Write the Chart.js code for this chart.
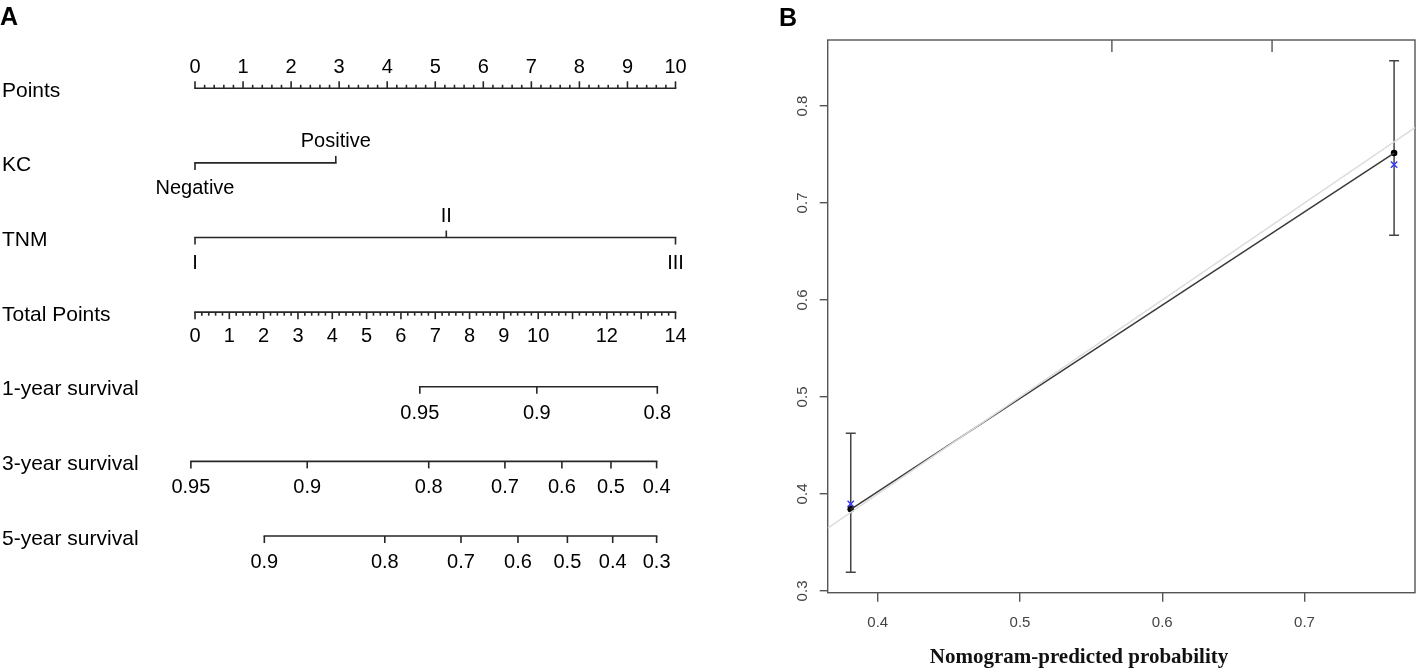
<!DOCTYPE html>
<html><head><meta charset="utf-8">
<script src="https://cdn.jsdelivr.net/npm/chart.js@4.4.1/dist/chart.umd.min.js"></script>
<style>
html,body{margin:0;padding:0;background:#fff;width:1418px;height:670px;overflow:hidden}
#wa{position:absolute;left:0;top:0;width:760px;height:670px}
#wb{position:absolute;left:760px;top:0;width:658px;height:670px}
</style></head><body>
<div id="wa"><canvas id="ca"></canvas></div>
<div id="wb"><canvas id="cb"></canvas></div>
<script>
// ================= Panel A : nomogram =================
const rowNames = ['Points','KC','TNM','Total Points','1-year survival','3-year survival','5-year survival'];
const pointsTickValues = [0,1,2,3,4,5,6,7,8,9,10];
const kcLevels = ['Negative','Positive'];
const kcPoints = [0, 2.93];
const tnmLevels = ['I','II','III'];
const tnmPoints = [0, 5.23, 10];
const totalTickValues = [0,1,2,3,4,5,6,7,8,9,10,11,12,13,14];
const totalTickLabels = ['0','1','2','3','4','5','6','7','8','9','10','','12','','14'];
const surv1Labels = ['0.95','0.9','0.8'];
const surv1Total = [6.55, 9.96, 13.47];
const surv3Labels = ['0.95','0.9','0.8','0.7','0.6','0.5','0.4'];
const surv3Total = [-0.12, 3.27, 6.81, 9.03, 10.69, 12.12, 13.45];
const surv5Labels = ['0.9','0.8','0.7','0.6','0.5','0.4','0.3'];
const surv5Total = [2.02, 5.53, 7.75, 9.41, 10.85, 12.17, 13.45];

const LINE = '#262626';
const SANS = '"Liberation Sans", Arial, sans-serif';

function seg(vals, row, axis) {
  return {
    data: [{x: Math.min(...vals), y: row}, {x: Math.max(...vals), y: row}],
    xAxisID: axis, showLine: true, pointRadius: 0, borderColor: LINE,
    borderWidth: 1.6, borderCapStyle: 'square', clip: false
  };
}

const nomoPlugin = {
  id: 'nomo',
  afterDatasetsDraw(chart) {
    const ctx = chart.ctx, xs = chart.scales.x, x2 = chart.scales.x2, ys = chart.scales.y;
    ctx.save();
    ctx.strokeStyle = LINE; ctx.lineWidth = 1.6; ctx.lineCap = 'butt';
    ctx.fillStyle = '#000';
    const tick = (sc, v, row, dir, len) => {
      const px = sc.getPixelForValue(v), py = ys.getPixelForValue(row);
      ctx.beginPath(); ctx.moveTo(px, py); ctx.lineTo(px, py + dir * len); ctx.stroke();
    };
    const text = (sc, v, row, t, dy) => {
      ctx.fillText(t, sc.getPixelForValue(v), ys.getPixelForValue(row) + dy);
    };
    ctx.textAlign = 'center'; ctx.textBaseline = 'alphabetic';
    ctx.font = '20px ' + SANS;
    // Points axis (row 0): ticks upward
    for (let i = 0; i <= 50; i++) {
      const v = i * 0.2;
      tick(xs, v, 0, -1, i % 5 === 0 ? 7 : 3.5);
    }
    pointsTickValues.forEach(v => text(xs, v, 0, String(v), -15));
    // KC (row 1)
    kcPoints.forEach((v, i) => {
      const above = i % 2 === 1;
      tick(xs, v, 1, above ? -1 : 1, 7);
      text(xs, v, 1, kcLevels[i], above ? -15.5 : 31.5);
    });
    // TNM (row 2)
    tnmPoints.forEach((v, i) => {
      const above = i % 2 === 1;
      tick(xs, v, 2, above ? -1 : 1, 7);
      text(xs, v, 2, tnmLevels[i], above ? -15.5 : 31.5);
    });
    // Total points (row 3): ticks downward
    for (let i = 0; i <= 70; i++) {
      const v = i * 0.2;
      tick(x2, v, 3, 1, i % 5 === 0 ? 7 : 3.5);
    }
    totalTickValues.forEach((v, i) => { if (totalTickLabels[i]) text(x2, v, 3, totalTickLabels[i], 30); });
    // survival axes
    [[surv1Total, surv1Labels, 4], [surv3Total, surv3Labels, 5], [surv5Total, surv5Labels, 6]].forEach(([vals, labs, row]) => {
      vals.forEach((v, i) => { tick(x2, v, row, 1, 7); text(x2, v, row, labs[i], 32); });
    });
    // row names
    ctx.textAlign = 'left';
    ctx.font = '21px ' + SANS;
    rowNames.forEach((n, r) => ctx.fillText(n, 2, ys.getPixelForValue(r) + 8.5));
    // panel tag
    ctx.font = 'bold 25px ' + SANS;
    ctx.fillText('A', 0, 25);
    ctx.restore();
  }
};

new Chart(document.getElementById('ca'), {
  type: 'scatter',
  data: {
    datasets: [
      seg([0, 10], 0, 'x'),
      seg(kcPoints, 1, 'x'),
      seg(tnmPoints, 2, 'x'),
      seg([0, 14], 3, 'x2'),
      seg(surv1Total, 4, 'x2'),
      seg(surv3Total, 5, 'x2'),
      seg(surv5Total, 6, 'x2')
    ]
  },
  options: {
    responsive: true, maintainAspectRatio: false, animation: false,
    layout: {padding: {left: 195, right: 84.5, top: 88.3, bottom: 134}},
    plugins: {legend: {display: false}, tooltip: {enabled: false}},
    events: [],
    scales: {
      x: {type: 'linear', min: 0, max: 10, display: false},
      x2: {type: 'linear', min: 0, max: 14, display: false},
      y: {type: 'linear', min: 0, max: 6, reverse: true, display: false}
    }
  },
  plugins: [nomoPlugin]
});

// ================= Panel B : calibration =================
const xLim = [0.3648, 0.7777];
const yLim = [0.2982, 0.868];
const xTicks = [0.4, 0.5, 0.6, 0.7];
const yTicks = [0.3, 0.4, 0.5, 0.6, 0.7, 0.8];
const predicted = [0.381, 0.763];
const observed = [0.3842, 0.7515];
const corrected = [0.3897, 0.7395];
const ciLow = [0.3193, 0.6667];
const ciHigh = [0.4626, 0.8467];
const rugTicks = [0.5646, 0.6772];
const xTitle = 'Nomogram-predicted probability';

const AX = '#555';
const calPlugin = {
  id: 'cal',
  beforeDatasetsDraw(chart) {
    const ctx = chart.ctx, xs = chart.scales.x, ys = chart.scales.y, a = chart.chartArea;
    ctx.save();
    ctx.strokeStyle = AX; ctx.lineWidth = 1.4;
    ctx.strokeRect(a.left, a.top, a.right - a.left, a.bottom - a.top);
    // rug ticks at top
    rugTicks.forEach(v => {
      const px = xs.getPixelForValue(v);
      ctx.beginPath(); ctx.moveTo(px, a.top); ctx.lineTo(px, a.top + 12); ctx.stroke();
    });
    // error bars
    ctx.strokeStyle = '#444'; ctx.lineWidth = 1.5;
    predicted.forEach((p, i) => {
      const px = xs.getPixelForValue(p), y1 = ys.getPixelForValue(ciLow[i]), y2 = ys.getPixelForValue(ciHigh[i]);
      ctx.beginPath();
      ctx.moveTo(px, y1); ctx.lineTo(px, y2);
      ctx.moveTo(px - 5, y1); ctx.lineTo(px + 5, y1);
      ctx.moveTo(px - 5, y2); ctx.lineTo(px + 5, y2);
      ctx.stroke();
    });
    ctx.restore();
  },
  afterDraw(chart) {
    const ctx = chart.ctx, ys = chart.scales.y;
    ctx.save();
    ctx.fillStyle = '#444';
    ctx.font = '15px ' + SANS;
    ctx.textAlign = 'center'; ctx.textBaseline = 'middle';
    yTicks.forEach(v => {
      ctx.save();
      ctx.translate(42.5, ys.getPixelForValue(v));
      ctx.rotate(-Math.PI / 2);
      ctx.fillText(v.toFixed(1), 0, 0);
      ctx.restore();
    });
    // x-axis title
    ctx.fillStyle = '#111';
    ctx.font = 'bold 21px "Liberation Serif", "Times New Roman", serif';
    ctx.textAlign = 'center'; ctx.textBaseline = 'alphabetic';
    ctx.fillText(xTitle, 319, 662.5);
    ctx.fillStyle = '#000';
    ctx.textAlign = 'left';
    ctx.font = 'bold 25px ' + SANS;
    ctx.fillText('B', 19, 25.6);
    ctx.restore();
  }
};

new Chart(document.getElementById('cb'), {
  type: 'scatter',
  data: {
    datasets: [
      {data: [{x: xLim[0], y: xLim[0]}, {x: xLim[1], y: xLim[1]}], showLine: true, pointRadius: 0,
       borderColor: '#dcdcdc', borderWidth: 1.5},
      {data: predicted.map((p, i) => ({x: p, y: observed[i]})), showLine: true, pointRadius: 0,
       borderColor: '#3a3a3a', borderWidth: 1.5},
      {data: predicted.map((p, i) => ({x: p, y: observed[i]})), pointRadius: 3.3,
       backgroundColor: '#000', borderColor: '#000', borderWidth: 0},
      {data: predicted.map((p, i) => ({x: p, y: corrected[i]})), pointStyle: 'crossRot', pointRadius: 4.5,
       borderColor: '#3a3aff', borderWidth: 1.5}
    ]
  },
  options: {
    responsive: true, maintainAspectRatio: false, animation: false,
    layout: {padding: {left: 0, right: 3, top: 40, bottom: 0}, autoPadding: false},
    plugins: {legend: {display: false}, tooltip: {enabled: false}},
    events: [],
    scales: {
      x: {
        type: 'linear', min: xLim[0], max: xLim[1],
        afterBuildTicks: s => { s.ticks = xTicks.map(v => ({value: v})); },
        afterFit: s => { s.height = 77.3; },
        grid: {drawOnChartArea: false, drawTicks: true, tickLength: 9, color: AX, lineWidth: 1.4},
        border: {display: false},
        ticks: {font: {family: 'Liberation Sans', size: 15}, color: '#444', padding: 12, maxRotation: 0,
                callback: v => Number(v).toFixed(1)}
      },
      y: {
        type: 'linear', min: yLim[0], max: yLim[1],
        afterBuildTicks: s => { s.ticks = yTicks.map(v => ({value: v})); },
        afterFit: s => { s.width = 67.7; },
        grid: {drawOnChartArea: false, drawTicks: true, tickLength: 8, color: AX, lineWidth: 1.4},
        border: {display: false},
        ticks: {display: false}
      }
    }
  },
  plugins: [calPlugin]
});
</script>
</body></html>
